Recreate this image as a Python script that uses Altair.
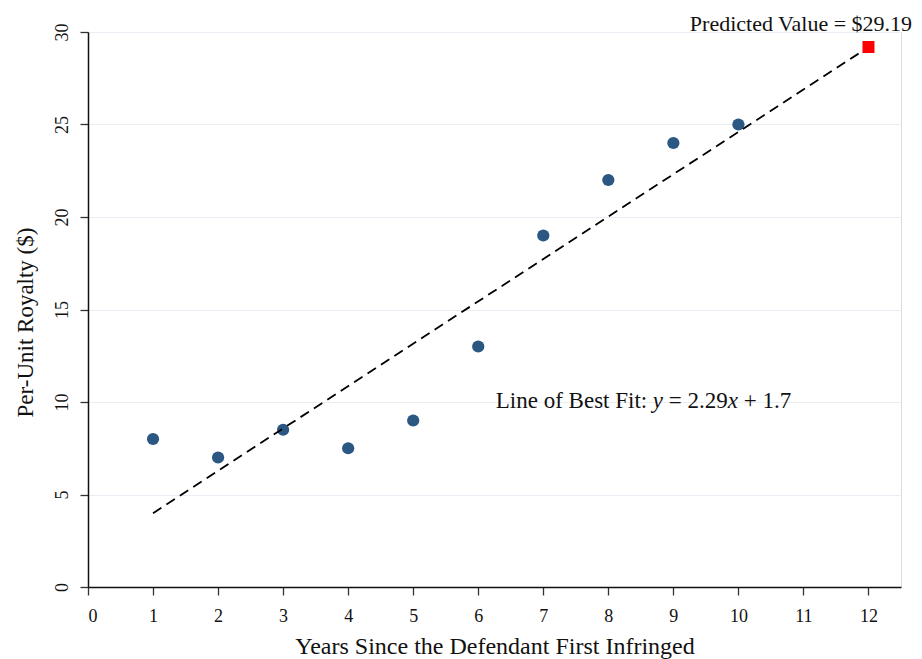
import altair as alt
import pandas as pd

years = [1, 2, 3, 4, 5, 6, 7, 8, 9, 10]
royalty = [8, 7, 8.5, 7.5, 9, 13, 19, 22, 24, 25]
slope = 2.29
intercept = 1.7
pred_x = [12]
pred_y = [29.19]
fit_x = [1, 12]
x_ticks = list(range(0, 13))
y_ticks = [0, 5, 10, 15, 20, 25, 30]

FONT = "Liberation Serif"

pts = pd.DataFrame({"x": years, "y": royalty})
fit = pd.DataFrame({"x": fit_x, "y": [slope * v + intercept for v in fit_x]})
pred = pd.DataFrame({"x": pred_x, "y": pred_y})

xscale = alt.Scale(domain=[0, 12.5], nice=False, zero=False)
yscale = alt.Scale(domain=[0, 30], nice=False)

xaxis = alt.Axis(values=x_ticks, grid=False, format="d", title="Years Since the Defendant First Infringed",
                 titleFont=FONT, titleFontSize=24, titleFontWeight="normal", titleColor="#111",
                 titleY=59, titleBaseline="middle",
                 labelFont=FONT, labelFontSize=18, labelColor="#111", labelPadding=12,
                 tickSize=8, tickColor="#333", tickWidth=1.3,
                 domainColor="#111", domainWidth=1.5)
yaxis = alt.Axis(values=y_ticks, grid=True, gridColor="#e8eef3", gridWidth=1.2, format="d",
                 title="Per-Unit Royalty ($)",
                 titleFont=FONT, titleFontSize=23, titleFontWeight="normal", titleColor="#111",
                 titleX=-63, titleY=290, titleAngle=270, titleBaseline="middle", titleAlign="center",
                 labelFont=FONT, labelFontSize=18, labelColor="#111", labelAngle=270,
                 labelAlign="center", labelBaseline="bottom", labelPadding=9,
                 tickSize=8, tickColor="#333", tickWidth=1.3,
                 domainColor="#111", domainWidth=1.5)

base_points = alt.Chart(pts).mark_circle(size=150, color="#2b5783", opacity=1).encode(
    x=alt.X("x:Q", scale=xscale, axis=xaxis),
    y=alt.Y("y:Q", scale=yscale, axis=yaxis),
)

line = alt.Chart(fit).mark_line(color="black", strokeWidth=1.8, strokeDash=[10, 6]).encode(
    x=alt.X("x:Q", scale=xscale),
    y=alt.Y("y:Q", scale=yscale),
)

square = alt.Chart(pred).mark_square(size=144, color="#ff0000", opacity=1).encode(
    x=alt.X("x:Q", scale=xscale),
    y=alt.Y("y:Q", scale=yscale),
)

pred_text = alt.Chart(pd.DataFrame({"x": [12.67], "y": [30.05], "t": ["Predicted Value = $29.19"]})).mark_text(
    font=FONT, fontSize=22, align="right", baseline="alphabetic", color="#111"
).encode(x=alt.X("x:Q", scale=xscale), y=alt.Y("y:Q", scale=yscale), text="t:N")

parts = [("Line of Best Fit:", "normal", 0), ("y", "italic", 157), ("= 2.29", "normal", 173),
         ("x", "italic", 232), ("+ 1.7", "normal", 248)]
fit_layers = []
for txt, style, off in parts:
    fit_layers.append(
        alt.Chart(pd.DataFrame({"x": [6.27], "y": [9.65], "t": [txt]})).mark_text(
            font=FONT, fontSize=23, align="left", baseline="alphabetic", color="#111",
            fontStyle=style, dx=off
        ).encode(x=alt.X("x:Q", scale=xscale), y=alt.Y("y:Q", scale=yscale), text="t:N")
    )

chart = alt.layer(base_points, line, square, pred_text, *fit_layers).properties(
    width=813, height=555,
    autosize=alt.AutoSizeParams(type="none"),
    padding={"left": 80, "top": 24, "right": 13, "bottom": 72},
).configure_view(stroke=None).configure(background="white")

chart.save("out.html", embed_options={"renderer": "svg", "actions": False})
